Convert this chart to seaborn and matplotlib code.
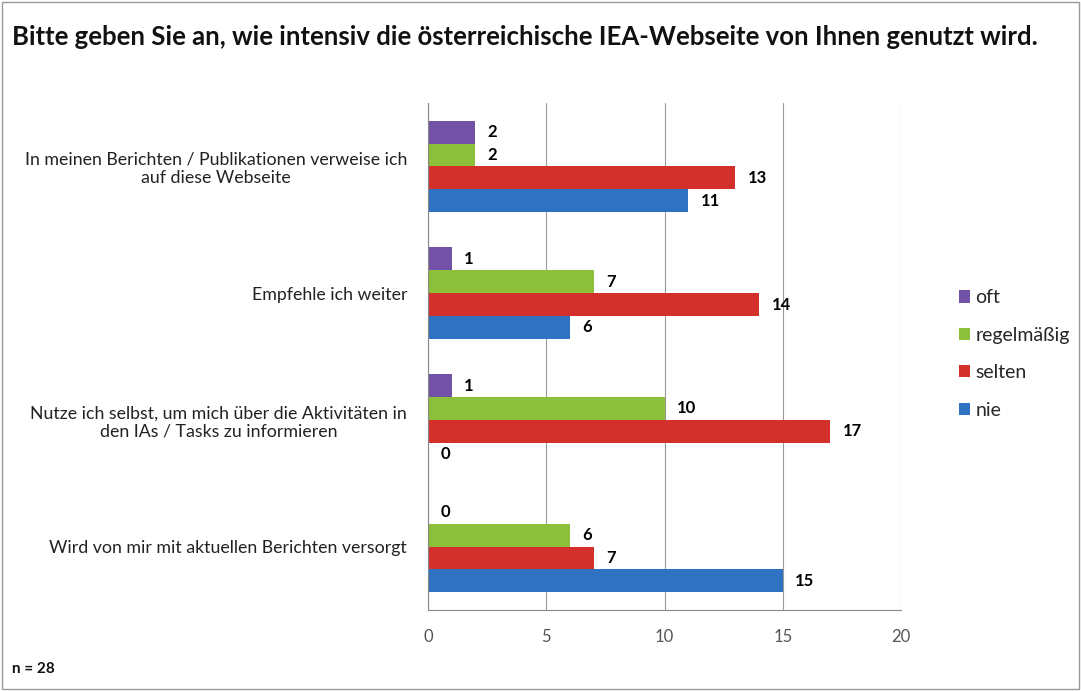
"""Nutzung der IEA-Webseite - horizontal grouped bar chart."""
import matplotlib
matplotlib.use("Agg")
import matplotlib.pyplot as plt
import numpy as np
import pandas as pd
import seaborn as sns
from matplotlib.patches import Rectangle

TITLE = "Bitte geben Sie an, wie intensiv die österreichische IEA-Webseite von Ihnen genutzt wird."
NOTE = "n = 28"

categories = [
    "In meinen Berichten / Publikationen verweise ich\nauf diese Webseite",
    "Empfehle ich weiter",
    "Nutze ich selbst, um mich über die Aktivitäten in\nden IAs / Tasks zu informieren",
    "Wird von mir mit aktuellen Berichten versorgt",
]
series = ["oft", "regelmäßig", "selten", "nie"]
oft = [2, 1, 1, 0]
regelmaessig = [2, 7, 10, 6]
selten = [13, 14, 17, 7]
nie = [11, 6, 0, 15]
x_ticks = [0, 5, 10, 15, 20]

colors = {"oft": "#7152a6", "regelmäßig": "#8cbf3a", "selten": "#d3302c", "nie": "#2f72c2"}

rows = []
for name, vals in zip(series, [oft, regelmaessig, selten, nie]):
    for cat, v in zip(categories, vals):
        rows.append({"Kategorie": cat, "Antwort": name, "Anzahl": v})
df = pd.DataFrame(rows)

sns.set_style("white")
plt.rcParams["font.family"] = ["Lato", "DejaVu Sans"]

fig = plt.figure(figsize=(10.81, 6.91), dpi=100)
ax = fig.add_axes([0.396, 0.1172, 0.4375, 0.7338])

sns.barplot(
    data=df, y="Kategorie", x="Anzahl", hue="Antwort",
    order=categories, hue_order=series, palette=colors,
    orient="h", width=0.72, ax=ax, errorbar=None, saturation=1,
    edgecolor="none",
)

for container in ax.containers:
    ax.bar_label(container, padding=9, fontsize=12, fontweight="bold", color="black")

ax.set_xlim(0, 20)
ax.set_xticks(x_ticks)
ax.set_xticklabels([str(t) for t in x_ticks], fontsize=12, color="#555555")
ax.set_ylim(len(categories) - 0.5, -0.5)
ax.set_xlabel("")
ax.set_ylabel("")
ax.set_yticks(np.arange(len(categories)))
ax.set_yticklabels(categories, fontsize=12.8, color="#222222", multialignment="center")
ax.set_yticks(np.arange(len(categories) + 1) - 0.5, minor=True)
ax.tick_params(axis="y", which="major", length=0, pad=15)
ax.tick_params(axis="y", which="minor", length=5, color="#888888", direction="out")
ax.tick_params(axis="x", length=5, color="#888888", direction="out", pad=9)

ax.grid(axis="x", color="#9a9a9a", linewidth=0.8)
ax.set_axisbelow(True)
for side in ["top", "right"]:
    ax.spines[side].set_visible(False)
ax.spines["left"].set_color("#888888")
ax.spines["bottom"].set_color("#888888")

ax.legend(
    loc="center left", bbox_to_anchor=(1.085, 0.505), frameon=False,
    fontsize=14, handlelength=0.6, handleheight=0.6, handletextpad=0.25,
    labelspacing=1.05,
)

fig.text(0.011, 0.946, TITLE, fontsize=18.5, fontweight="bold", color="#111111", va="center")
fig.text(0.011, 0.032, NOTE, fontsize=11, fontweight="bold", color="#111111", va="center")
fig.patches.append(Rectangle((0.002, 0.003), 0.996, 0.994, transform=fig.transFigure,
                             fill=False, edgecolor="#9a9a9a", linewidth=1))

fig.savefig("out.png", dpi=100)
